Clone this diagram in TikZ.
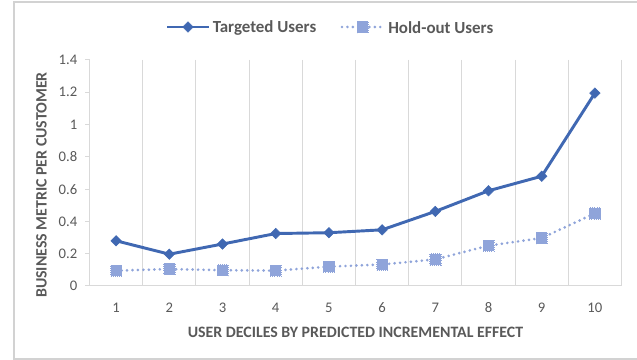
\documentclass[tikz,border=0pt]{standalone}
\usepackage{fontspec}
\setmainfont{Carlito}
\usetikzlibrary{shapes.geometric}
\definecolor{tgt}{RGB}{64,104,178}
\definecolor{hold}{RGB}{143,164,218}
\definecolor{txt}{RGB}{89,89,89}
\definecolor{gridc}{RGB}{217,217,217}
\definecolor{framec}{RGB}{210,210,210}
\tikzset{
  tline/.style={tgt, line width=2.2pt, line join=round},
  hline/.style={hold, line width=2.2pt, line cap=round, dash pattern=on 0pt off 4.1pt},
  tmark/.style={diamond, fill=tgt, draw=tgt, line width=0.4pt, inner sep=0pt, minimum size=8pt},
  hmark/.style={rectangle, fill=hold, draw=hold, densely dotted, line width=0.6pt, inner sep=0pt, minimum size=8.4pt},
  gridline/.style={gridc, line width=0.75pt},
  ticklab/.style={txt, font=\fontsize{11}{13}\selectfont, inner sep=0pt},
  axtitle/.style={txt, font=\bfseries\fontsize{11.9}{14}\selectfont, inner sep=0pt},
  legtext/.style={txt, font=\bfseries\fontsize{12.7}{15}\selectfont, inner sep=0pt, anchor=west},
}
\begin{document}
\begin{tikzpicture}[x=0.75pt,y=-0.75pt]
\useasboundingbox (0,0) rectangle (637,360);
% outer frame
\draw[framec, line width=1.5pt] (637,2) -- (13.5,2) -- (13.5,359) -- (637,359);
% vertical gridlines
\foreach \k in {0,...,10} {
  \draw[gridline] ({89.5+53.2*\k},60) -- ({89.5+53.2*\k},286);
}
% x axis
\draw[gridline] (89.5,286) -- (621.5,286);
% y ticks and labels
\foreach \v/\lab in {0/0,1/0.2,2/0.4,3/0.6,4/0.8,5/1,6/1.2,7/1.4} {
  \draw[gridline] (85,{286-32.286*\v}) -- (89.5,{286-32.286*\v});
  \node[ticklab, anchor=east] (yl\v) at (77.5,{286-32.286*\v}) {\lab};
}
% x labels
\foreach \i in {1,...,10} {
  \node[ticklab] (xl\i) at ({89.5+53.2*(\i-0.5)},307.5) {\i};
}
% axis titles
\node[axtitle] (xtitle) at (355.5,332) {USER DECILES BY PREDICTED INCREMENTAL EFFECT};
\node[axtitle, rotate=90] (ytitle) at (41.5,185) {BUSINESS METRIC PER CUSTOMER};
% data
\foreach \i/\t/\h in {1/0.28/0.095,2/0.197/0.105,3/0.26/0.098,4/0.325/0.095,5/0.33/0.12,6/0.348/0.133,7/0.462/0.165,8/0.59/0.25,9/0.68/0.297,10/1.195/0.45} {
  \coordinate (t\i) at ({89.5+53.2*(\i-0.5)},{286-161.43*\t});
  \coordinate (h\i) at ({89.5+53.2*(\i-0.5)},{286-161.43*\h});
}
\draw[hline] (h1) -- (h2) -- (h3) -- (h4) -- (h5) -- (h6) -- (h7) -- (h8) -- (h9) -- (h10);
\foreach \i in {1,...,10} { \node[hmark] (hm\i) at (h\i) {}; }
\draw[tline] (t1) -- (t2) -- (t3) -- (t4) -- (t5) -- (t6) -- (t7) -- (t8) -- (t9) -- (t10);
\foreach \i in {1,...,10} { \node[tmark] (tm\i) at (t\i) {}; }
% legend
\coordinate (lt1) at (167,27);
\coordinate (lt2) at (209,27);
\draw[tline] (lt1) -- (lt2);
\node[tmark] (ltm) at (188,27) {};
\node[legtext] (ltt) at (212.5,27.5) {Targeted Users};
\coordinate (lh1) at (342,27);
\coordinate (lh2) at (381,27);
\draw[hline] (lh1) -- (lh2);
\node[hmark] (lhm) at (362.5,27) {};
\node[legtext] (lht) at (388,27.5) {Hold-out Users};
\end{tikzpicture}
\end{document}
